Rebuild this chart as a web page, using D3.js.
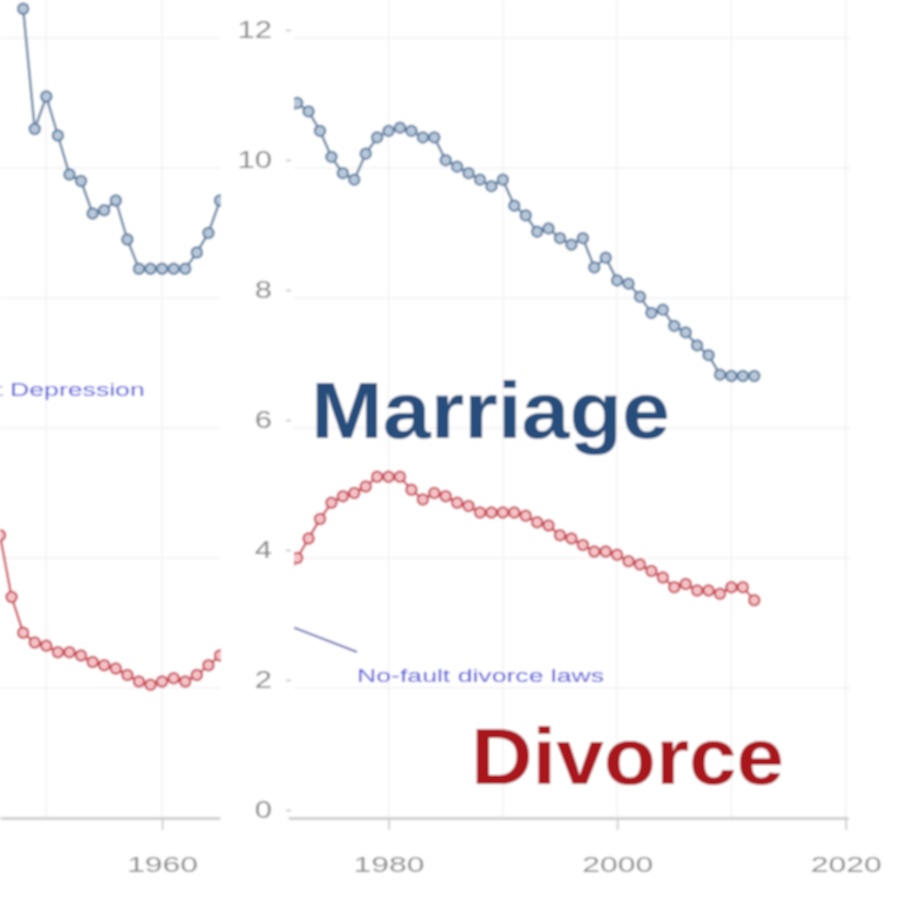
<!DOCTYPE html>
<html><head><meta charset="utf-8">
<script src="https://cdn.jsdelivr.net/npm/d3@7/dist/d3.min.js"></script>
<style>body{margin:0;background:#fff} svg{display:block}</style>
</head><body>
<svg id="c" width="900" height="900"></svg>
<script>
// ---- data (rates per 1,000 people) ----
const leftMarriageYears = d3.range(1948, 1966);
const leftMarriage = [12.45,10.6,11.1,10.5,9.9,9.8,9.3,9.35,9.5,8.9,8.45,8.45,8.45,8.45,8.45,8.7,9.0,9.5];
const leftDivorceYears = d3.range(1946, 1966);
const leftDivorce = [4.35,3.4,2.85,2.7,2.65,2.55,2.55,2.5,2.4,2.35,2.3,2.2,2.1,2.05,2.1,2.15,2.1,2.2,2.35,2.5];
const rightYears = d3.range(1971, 2013);
const rightMarriage = [10.7,11.0,10.87,10.57,10.17,9.92,9.82,10.22,10.47,10.57,10.62,10.57,10.47,10.47,10.12,10.02,9.92,9.82,9.72,9.82,9.42,9.27,9.02,9.07,8.92,8.82,8.92,8.47,8.62,8.27,8.22,8.02,7.77,7.82,7.57,7.47,7.27,7.12,6.82,6.8,6.8,6.8];
const rightDivorce = [3.65,4.0,4.3,4.6,4.85,4.95,5.0,5.1,5.25,5.25,5.25,5.05,4.9,5.0,4.95,4.85,4.8,4.7,4.7,4.7,4.7,4.65,4.55,4.5,4.35,4.3,4.2,4.1,4.1,4.05,3.95,3.9,3.8,3.7,3.55,3.6,3.5,3.5,3.45,3.55,3.55,3.35];
const yTicks = [0,2,4,6,8,10,12];
const leftXTicks = [1960];
const rightXTicks = [1980,2000,2020];
const depressionNote = {text: "Great Depression", year: 1958.5, value: 6.5};
const noFaultNote = {text: "No-fault divorce laws", year: 1977.24, value: 2.09};
const noFaultPointer = [[1969.5, 3.08], [1977.24, 2.554]];

// ---- layout ----
const svg = d3.select("#c");
const font = "'Liberation Sans', Arial, sans-serif";
const defs = svg.append("defs");
defs.append("filter").attr("id","soft").attr("x","-5%").attr("y","-5%").attr("width","110%").attr("height","110%")
  .append("feGaussianBlur").attr("stdDeviation",1.1);
defs.append("clipPath").attr("id","clipL").append("rect").attr("x",0).attr("y",0).attr("width",221).attr("height",900);
defs.append("clipPath").attr("id","clipR").append("rect").attr("x",294).attr("y",0).attr("width",606).attr("height",900);

const y = d3.scaleLinear().domain([0,12]).range([818,38]);
const xL = d3.scaleLinear().domain([1946,1965]).range([0,220]);
const xR = d3.scaleLinear().domain([1971.2,2020.2]).range([288,848]);

const g = svg.append("g").attr("filter","url(#soft)");
g.append("rect").attr("x",0).attr("y",0).attr("width",900).attr("height",900).attr("fill","#fff");

function stretchText(sel, sx){
  sel.each(function(){
    const t = d3.select(this);
    const x = +t.attr("x") || 0, yy = +t.attr("y") || 0;
    t.attr("x",0).attr("y",0).attr("transform",`translate(${x},${yy}) scale(${sx},1)`);
  });
}

// grid
const grid = g.append("g").attr("stroke","#f4f4f6").attr("stroke-width",2);
yTicks.forEach(v=>{
  grid.append("line").attr("x1",0).attr("x2",220).attr("y1",y(v)).attr("y2",y(v));
  grid.append("line").attr("x1",294).attr("x2",850).attr("y1",y(v)).attr("y2",y(v));
});
[1950,1960].forEach(t=>grid.append("line").attr("x1",xL(t)).attr("x2",xL(t)).attr("y1",0).attr("y2",818));
[1980,1990,2000,2010,2020].forEach(t=>grid.append("line").attr("x1",xR(t)).attr("x2",xR(t)).attr("y1",0).attr("y2",818));

// axes
function styleXAxis(ax){
  ax.select(".domain").attr("stroke","#cfcfcf").attr("stroke-width",3);
  ax.selectAll(".tick line").attr("stroke","#cfcfcf").attr("stroke-width",2);
  ax.selectAll(".tick text").attr("fill","#8a8a8a").attr("font-size",22).attr("font-family",font);
  stretchText(ax.selectAll(".tick text"), 1.45);
}
const axL = g.append("g").attr("transform","translate(0,818)")
  .call(d3.axisBottom(xL).tickValues(leftXTicks).tickFormat(d3.format("d")).tickSize(12).tickSizeOuter(0).tickPadding(26));
styleXAxis(axL);
const axR = g.append("g").attr("transform","translate(0,818)")
  .call(d3.axisBottom(xR).tickValues(rightXTicks).tickFormat(d3.format("d")).tickSize(12).tickSizeOuter(0).tickPadding(26));
styleXAxis(axR);

const axY = g.append("g").attr("transform","translate(291,-8)")
  .call(d3.axisLeft(y).tickValues(yTicks).tickSize(5).tickPadding(14));
axY.select(".domain").remove();
axY.selectAll(".tick line").attr("stroke","#bbbbbb").attr("stroke-width",1.5);
axY.selectAll(".tick text").attr("fill","#858585").attr("font-size",23).attr("font-family",font);
stretchText(axY.selectAll(".tick text"), 1.35);

// series drawing
function drawSeries(parent, xs, years, vals, lineColor, stroke, fill){
  const pts = years.map((yr,i)=>[yr, vals[i]]);
  parent.append("path").datum(pts)
    .attr("fill","none").attr("stroke",lineColor).attr("stroke-width",2.6)
    .attr("d", d3.line().x(d=>xs(d[0])).y(d=>y(d[1])));
  parent.selectAll(null).data(pts).enter().append("circle")
    .attr("cx",d=>xs(d[0])).attr("cy",d=>y(d[1])).attr("r",5.2)
    .attr("fill",fill).attr("stroke",stroke).attr("stroke-width",2);
}
const pL = g.append("g").attr("clip-path","url(#clipL)");
const pR = g.append("g").attr("clip-path","url(#clipR)");
const mLine="#6f89a7", mStroke="#56789c", mFill="#b8c8da";
const dLine="#d0606b", dStroke="#c63f4c", dFill="#f3c3c7";
drawSeries(pL, xL, leftMarriageYears, leftMarriage, mLine, mStroke, mFill);
drawSeries(pL, xL, leftDivorceYears, leftDivorce, dLine, dStroke, dFill);
drawSeries(pR, xR, rightYears, rightMarriage, mLine, mStroke, mFill);
drawSeries(pR, xR, rightYears, rightDivorce, dLine, dStroke, dFill);

// annotations
pL.append("text").text(depressionNote.text)
  .attr("x", xL(depressionNote.year)).attr("y", y(depressionNote.value))
  .attr("text-anchor","end").attr("font-size",18).attr("font-family",font)
  .attr("fill","#5050d6").call(s=>stretchText(s,1.48));
pR.append("path").datum(noFaultPointer)
  .attr("fill","none").attr("stroke","#6b6bb0").attr("stroke-width",2.2)
  .attr("d", d3.line().x(d=>xR(d[0])).y(d=>y(d[1])));
g.append("text").text(noFaultNote.text)
  .attr("x", xR(noFaultNote.year)).attr("y", y(noFaultNote.value))
  .attr("font-size",18).attr("font-family",font)
  .attr("fill","#5050d6").call(s=>stretchText(s,1.48));

// big labels
g.append("text").text("Marriage").attr("x",311).attr("y",438)
  .attr("font-size",80).attr("font-weight","bold").attr("font-family",font)
  .attr("fill","#284d7b").attr("textLength",359).attr("lengthAdjust","spacingAndGlyphs");
g.append("text").text("Divorce").attr("x",471).attr("y",784)
  .attr("font-size",80).attr("font-weight","bold").attr("font-family",font)
  .attr("fill","#a9161f").attr("textLength",313).attr("lengthAdjust","spacingAndGlyphs");
</script>
</body></html>
